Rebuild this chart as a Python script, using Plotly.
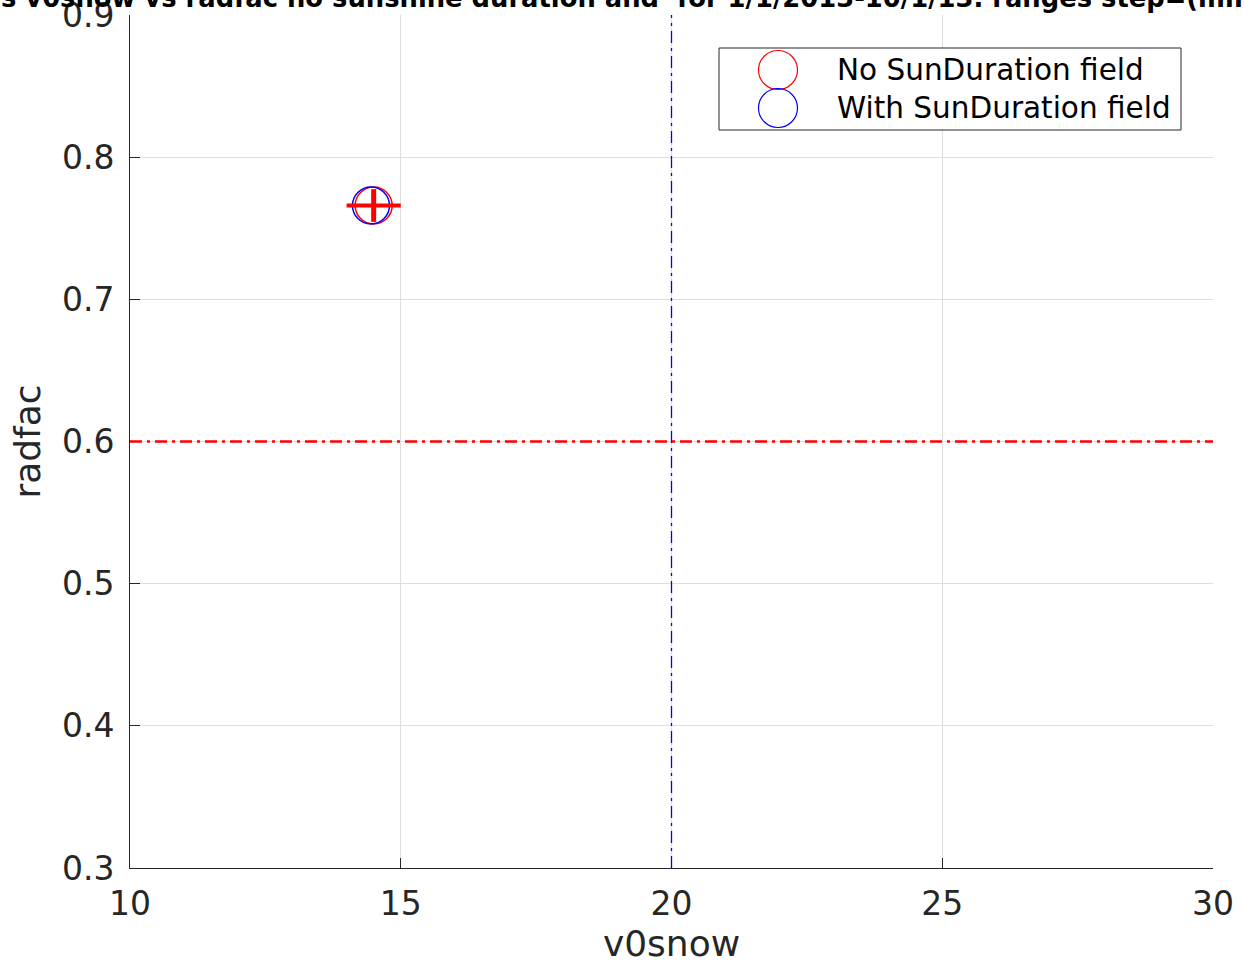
import plotly.graph_objects as go

# ---- data ----
v0snow_nosun = [14.5]
radfac_nosun = [0.766]
v0snow_err = [0.5]
radfac_err = [0.0115]
v0snow_sun = [14.45]
radfac_sun = [0.766]
ref_v0snow = 20
ref_radfac = 0.6
x_ticks = [10, 15, 20, 25, 30]
y_ticks = [0.3, 0.4, 0.5, 0.6, 0.7, 0.8, 0.9]
legend_names = ["No SunDuration field", "With SunDuration field"]
legend_colors = ["red", "blue"]
title_text = ("s v0snow vs radfac no sunshine duration and \u00a0for 1/1/2013-10/1/13. "
              "ranges step=(mm/K/d, -)")

W, H = 1244, 970
L, R, T, B = 130, 31, 15, 102
pw, ph = W - L - R, H - T - B

def px(x):
    return (x - L) / pw

def py(y):
    return (H - B - y) / ph

AX = "#262626"
GRID = "#dedede"
FONT = "DejaVu Sans"

fig = go.Figure()

# red series (circle hidden underneath blue) with error cross
fig.add_trace(go.Scatter(
    x=v0snow_nosun, y=radfac_nosun, mode="markers",
    marker=dict(symbol="circle-open", size=37, color="red", line=dict(width=1.5, color="red")),
    showlegend=False, name=legend_names[0]))
fig.add_trace(go.Scatter(
    x=v0snow_sun, y=radfac_sun, mode="markers",
    marker=dict(symbol="circle-open", size=37, color="blue", line=dict(width=1.5, color="blue")),
    showlegend=False, name=legend_names[1]))
fig.add_trace(go.Scatter(
    x=v0snow_nosun, y=radfac_nosun, mode="markers",
    marker=dict(size=1, color="rgba(0,0,0,0)"),
    error_x=dict(type="data", array=v0snow_err, color="red", thickness=4, width=0),
    error_y=dict(type="data", array=radfac_err, color="red", thickness=5, width=0),
    showlegend=False, hoverinfo="skip"))

shapes = [
    dict(type="line", xref="x", yref="paper", x0=ref_v0snow, x1=ref_v0snow, y0=0, y1=1,
         line=dict(color="blue", width=1.3, dash="12px,5px,3px,5px"), layer="above"),
    dict(type="line", xref="paper", yref="y", x0=0, x1=1, y0=ref_radfac, y1=ref_radfac,
         line=dict(color="red", width=2.5, dash="12px,5px,3px,5px"), layer="above"),
    # legend box
    dict(type="rect", xref="paper", yref="paper", x0=px(719), x1=px(1181), y0=py(130), y1=py(48),
         line=dict(color=AX, width=1), fillcolor="white", layer="above"),
]
annotations = []
for i, (name, col) in enumerate(zip(legend_names, legend_colors)):
    cy = [70, 108][i]
    shapes.append(dict(type="circle", xref="paper", yref="paper", xsizemode="pixel", ysizemode="pixel",
                       xanchor=px(778), yanchor=py(cy), x0=-19.5, x1=19.5, y0=-19.5, y1=19.5,
                       line=dict(color=col, width=1.2), layer="above"))
    annotations.append(dict(xref="paper", yref="paper", x=px(835), y=py(cy), xanchor="left",
                            yanchor="middle", text=name, showarrow=False,
                            font=dict(family=FONT, size=29.5, color="black")))

annotations.append(dict(xref="paper", yref="paper", x=px(-1), y=py(-2), xanchor="left",
                        yanchor="middle", text="<b>" + title_text + "</b>", showarrow=False,
                        font=dict(family=FONT, size=25.8, color="black")))

fig.update_layout(
    width=W, height=H,
    margin=dict(l=L, r=R, t=T, b=B, autoexpand=False),
    plot_bgcolor="white", paper_bgcolor="white",
    shapes=shapes, annotations=annotations,
    showlegend=False,
    font=dict(family=FONT, color=AX),
)
fig.update_xaxes(
    range=[10, 30], tickvals=x_ticks, ticktext=[str(v) for v in x_ticks], automargin=False,
    showline=True, linecolor=AX, linewidth=1, mirror=False,
    showgrid=True, gridcolor=GRID, gridwidth=1, zeroline=False,
    ticks="inside", ticklen=10, tickcolor=AX, tickwidth=1, ticklabeloverflow="allow",
    tickfont=dict(family=FONT, size=33, color=AX), ticklabelstandoff=6,
    title=dict(text="v0snow", font=dict(family=FONT, size=36, color=AX), standoff=4),
)
fig.update_yaxes(
    range=[0.3, 0.9], tickvals=y_ticks, ticktext=[f"{v:.1f}" for v in y_ticks], automargin=False,
    showline=True, linecolor=AX, linewidth=1, mirror=False,
    showgrid=True, gridcolor=GRID, gridwidth=1, zeroline=False,
    ticks="inside", ticklen=10, tickcolor=AX, tickwidth=1, ticklabeloverflow="allow",
    tickfont=dict(family=FONT, size=33, color=AX), ticklabelstandoff=8,
    title=dict(text="radfac", font=dict(family=FONT, size=36, color=AX), standoff=10),
)

fig.write_html("out.html", config={"displayModeBar": False},
               post_script="document.body.style.margin='0';")
